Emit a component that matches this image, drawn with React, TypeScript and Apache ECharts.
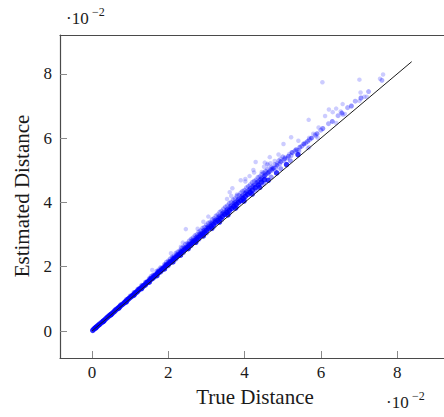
import React, { useEffect, useRef } from "react";
import * as echarts from "echarts";

// values in units of 10^-2
const tickValues = [0, 2, 4, 6, 8];
const xLabel = "True Distance";
const yLabel = "Estimated Distance";

const diagonal: number[][] = [[0, 0], [8.38, 8.38]];

const corePoints: number[][] = [
  [0.02,0.02],[0.05,0.06],[0.08,0.09],[0.11,0.12],[0.14,0.15],[0.17,0.18],[0.2,0.21],[0.24,0.25],[0.28,0.29],[0.32,0.33],
  [0.36,0.38],[0.4,0.42],[0.44,0.46],[0.48,0.5],[0.52,0.54],[0.56,0.58],[0.6,0.62],[0.64,0.67],[0.68,0.71],[0.72,0.75],
  [0.76,0.79],[0.8,0.83],[0.84,0.87],[0.88,0.91],[0.92,0.96],[0.96,1.0],[1.0,1.04],[1.04,1.08],[1.08,1.12],[1.12,1.16],
  [1.16,1.2],[1.2,1.25],[1.24,1.29],[1.28,1.33],[1.32,1.37],[1.36,1.41],[1.4,1.45],[1.44,1.5],[1.48,1.54],[1.52,1.58],
  [1.56,1.62],[1.6,1.66],[1.64,1.7],[1.68,1.75],[1.72,1.79],[1.76,1.83],[1.8,1.87],[1.84,1.91],[1.88,1.96],[1.92,2.0],
  [1.96,2.04],[2.0,2.08],[2.05,2.13],[2.1,2.18],[2.15,2.24],[2.2,2.29],[2.25,2.34],[2.3,2.39],[2.35,2.45],[2.4,2.5],
  [2.45,2.55],[2.5,2.6],[2.55,2.65],[2.6,2.71],[2.65,2.76],[2.7,2.81],[2.75,2.86],[2.8,2.92],[2.85,2.97],[2.9,3.02],
  [2.95,3.07],[3.0,3.12],[3.06,3.19],[3.12,3.25],[3.18,3.31],[3.24,3.38],[3.3,3.44],[3.36,3.5],[3.42,3.56],[3.48,3.63],
  [3.54,3.69],[3.6,3.75],[3.66,3.81],[3.72,3.88],[3.78,3.94],[3.84,4.0],[3.9,4.06],[3.96,4.13],[4.02,4.19],[4.08,4.25],
  [4.14,4.31],[4.2,4.38],[4.28,4.46],[4.36,4.54],[4.44,4.63],[4.52,4.71],
  [0.1,0.1],[0.3,0.3],[0.5,0.51],[0.7,0.71],[0.9,0.91],[1.1,1.12],[1.3,1.32],[1.5,1.52],[1.7,1.72],[1.9,1.93],
  [2.12,2.15],[2.32,2.36],[2.52,2.56],[2.72,2.76],[2.92,2.96],[3.14,3.19],[3.34,3.39],[3.56,3.61],[3.76,3.82],[3.98,4.04],
  [4.2,4.26],[4.4,4.47],[4.62,4.69],[4.84,4.92],[5.1,5.18],[5.4,5.49]
];

const midPoints: number[][] = [
  [0.3,0.32],[0.45,0.48],[0.6,0.64],[0.75,0.8],[0.85,0.9],[0.95,1.01],[1.05,1.11],[1.15,1.22],[1.25,1.33],[1.35,1.43],
  [1.45,1.54],[1.55,1.65],[1.65,1.75],[1.75,1.86],[1.85,1.96],[1.95,2.07],[2.05,2.17],[2.15,2.28],[2.25,2.38],[2.35,2.5],
  [2.45,2.6],[2.55,2.71],[2.65,2.82],[2.75,2.93],[2.85,3.03],[2.95,3.14],[3.05,3.25],[3.15,3.36],[3.25,3.46],[3.35,3.57],
  [3.45,3.68],[3.55,3.79],[3.65,3.9],[3.75,4.0],[3.85,4.11],[3.95,4.22],[4.05,4.33],[4.15,4.44],[4.25,4.54],[4.35,4.65],
  [4.45,4.76],[4.55,4.86],[4.65,4.96],[4.75,5.06],[4.85,5.16],[4.95,5.27],[5.05,5.36],[5.15,5.44],[5.25,5.55],[5.35,5.64],
  [5.45,5.72],[5.55,5.82],[5.65,5.9],[5.75,6.0],[5.9,6.14],[6.05,6.3],[6.3,6.52],[6.55,6.78],[6.8,7.0],[7.05,7.25],
  [1.02,1.08],[1.12,1.19],[1.22,1.3],[1.32,1.4],[1.42,1.51],[1.52,1.62],[1.62,1.72],[1.72,1.83],[1.82,1.94],[1.92,2.05],
  [2.02,2.15],[2.12,2.26],[2.22,2.37],[2.32,2.47],[2.42,2.58],[2.52,2.69],[2.62,2.8],[2.72,2.9],[2.82,3.01],[2.92,3.12],
  [3.02,3.23],[3.12,3.33],[3.22,3.44],[3.32,3.55],[3.42,3.66],[3.52,3.76],[3.62,3.87],[3.72,3.98],[3.82,4.08],[3.92,4.19],
  [4.02,4.3],[4.12,4.4],[4.22,4.51],[4.32,4.62],[4.42,4.72],[4.52,4.83],[4.62,4.93],[4.72,5.04],
  [1.2,1.22],[1.4,1.42],[1.6,1.63],[1.8,1.83],[2.0,2.03],[2.2,2.24],[2.4,2.44],[2.6,2.65],[2.8,2.85],[3.0,3.05],
  [3.2,3.26],[3.4,3.46],[3.6,3.67],[3.8,3.87],[4.0,4.08],[4.3,4.38],[4.5,4.59],[4.7,4.79],[4.95,5.05],[5.2,5.3]
];

const bandPoints: number[][] = [
  [0.6,0.66],[0.75,0.82],[0.9,0.98],[1.0,1.09],[1.1,1.2],[1.2,1.3],[1.3,1.42],[1.4,1.52],[1.5,1.63],[1.55,1.7],
  [1.6,1.74],[1.7,1.86],[1.75,1.9],[1.8,1.97],[1.9,2.07],[1.95,2.14],[2.0,2.18],[2.05,2.24],[2.1,2.3],[2.15,2.33],
  [2.2,2.42],[2.25,2.46],[2.3,2.5],[2.35,2.58],[2.4,2.62],[2.45,2.7],[2.5,2.73],[2.55,2.8],[2.6,2.86],[2.65,2.9],
  [2.7,2.97],[2.75,3.0],[2.8,3.08],[2.85,3.12],[2.9,3.2],[2.95,3.23],[3.0,3.3],[3.05,3.36],[3.1,3.38],[3.15,3.47],
  [3.2,3.5],[3.25,3.58],[3.3,3.62],[3.35,3.7],[3.4,3.73],[3.45,3.8],[3.5,3.86],[3.55,3.9],[3.6,3.98],[3.65,4.0],
  [3.7,4.08],[3.75,4.12],[3.8,4.2],[3.85,4.22],[3.9,4.3],[3.95,4.35],[4.0,4.38],[4.05,4.46],[4.1,4.5],[4.15,4.55],
  [4.2,4.62],[4.25,4.66],[4.3,4.7],[4.35,4.78],[4.4,4.8],[4.45,4.88],[4.5,4.92],[4.55,4.97],[4.6,5.03],[4.7,5.1],
  [4.8,5.18],[4.9,5.3],[5.0,5.42],
  [3.02,3.18],[3.12,3.28],[3.22,3.4],[3.32,3.5],[3.42,3.62],[3.52,3.72],[3.62,3.82],[3.72,3.95],[3.82,4.05],[3.92,4.15],
  [4.02,4.28],[4.12,4.36],[4.22,4.48],[4.32,4.58],[4.42,4.7],[4.52,4.8],[4.62,4.9],[4.72,5.0],[4.82,5.08],[4.92,5.2],
  [5.02,5.3],[5.12,5.38],[5.22,5.46],[5.32,5.6],[5.5,5.75],[5.6,5.85],[5.7,5.95],[5.85,6.1],[6.0,6.25],[6.2,6.45],
  [6.45,6.7],[6.7,6.95],[6.9,7.15],[7.25,7.45],[7.6,7.8]
];

const outlierPoints: number[][] = [
  [6.04,7.74],[7.01,7.82],[7.63,7.98],[7.55,7.85],[7.04,7.42],[7.14,7.29],[7.2,7.29],[7.01,7.16],[6.57,7.06],[6.4,6.92],
  [6.21,6.89],[6.31,6.81],[6.52,6.83],[6.58,6.73],[6.63,6.75],[6.11,6.69],[6.4,6.47],[5.68,6.57],[5.94,6.33],[5.8,6.14],
  [5.69,6.01],[5.76,6.01],[5.87,6.06],[5.92,6.01],[5.56,5.81],[5.41,5.92],[5.66,5.69],[5.69,5.72],[5.43,5.63],
  [5.22,6.03],[5.02,5.82],[5.38,5.63],[5.43,5.58],[5.23,5.56],[5.17,5.51],[4.89,5.49],[4.94,5.36],[5.06,5.41],[4.66,5.41],
  [4.29,5.26],[4.53,5.24],[4.6,5.2],[4.68,5.22],[4.79,5.29],[4.86,5.22],[4.23,5.01],[4.25,4.93],[4.45,4.95],[4.54,4.91],
  [4.68,5.03],[4.77,5.06],[3.9,4.69],[4.02,4.73],[3.68,4.44],[3.61,4.32],[4.02,4.65],[4.13,4.82],[3.05,3.56],[2.92,3.4],
  [4.51,5.11],[4.6,5.17],[3.54,4.11],[3.65,4.2],[3.8,4.25],[2.46,3.17],[2.77,3.18],[2.07,2.42],[2.38,2.75],[2.33,2.62],
  [1.58,1.9]
];

export default function App() {
  const ref = useRef<HTMLDivElement>(null);
  useEffect(() => {
    if (!ref.current) return;
    const chart = echarts.init(ref.current, null, { renderer: "svg" });
    const font = "'Liberation Serif', 'DejaVu Serif', serif";
    const dotColor = "rgb(0,0,255)";
    const axisColor = "#4a4a4a";
    chart.setOption({
      animation: false,
      backgroundColor: "#ffffff",
      grid: { left: 60, top: 35, right: -5, bottom: 59, show: false },
      xAxis: [
        {
          type: "value",
          min: -0.838,
          max: 9.227,
          splitLine: { show: false },
          axisLine: { show: true, onZero: false, lineStyle: { color: axisColor, width: 1.2 } },
          axisTick: { show: true, inside: true, length: 7, lineStyle: { color: "#8a8a8a" }, customValues: tickValues },
          axisLabel: { fontFamily: font, fontSize: 17, color: "#1a1a1a", margin: 6, customValues: tickValues },
        },
        {
          type: "value",
          position: "top",
          min: -0.838,
          max: 9.227,
          splitLine: { show: false },
          axisLine: { show: true, onZero: false, lineStyle: { color: axisColor, width: 1.2 } },
          axisTick: { show: false },
          axisLabel: { show: false },
        },
      ],
      yAxis: {
        type: "value",
        min: -0.84,
        max: 9.21,
        splitLine: { show: false },
        axisLine: { show: true, onZero: false, lineStyle: { color: axisColor, width: 1.2 } },
        axisTick: { show: true, inside: true, length: 7, lineStyle: { color: "#8a8a8a" }, customValues: tickValues },
        axisLabel: { fontFamily: font, fontSize: 17, color: "#1a1a1a", margin: 8, customValues: tickValues },
      },
      graphic: [
        { type: "text", left: 66, top: 10, style: { text: "·10", fontFamily: font, fontSize: 17, fill: "#1a1a1a" } },
        { type: "text", left: 92, top: 6, style: { text: "−2", fontFamily: font, fontSize: 12, fill: "#1a1a1a" } },
        { type: "text", left: 386, top: 394, style: { text: "·10", fontFamily: font, fontSize: 17, fill: "#1a1a1a" } },
        { type: "text", left: 412, top: 390, style: { text: "−2", fontFamily: font, fontSize: 12, fill: "#1a1a1a" } },
        {
          type: "text", x: 255, y: 397,
          style: { text: xLabel, fontFamily: font, fontSize: 21, fill: "#1a1a1a", align: "center", verticalAlign: "middle" },
        },
        {
          type: "text", x: 22, y: 196, rotation: Math.PI / 2,
          style: { text: yLabel, fontFamily: font, fontSize: 21, fill: "#1a1a1a", align: "center", verticalAlign: "middle" },
        },
      ],
      series: [
        {
          type: "scatter", data: outlierPoints, symbolSize: 4.5,
          itemStyle: { color: dotColor, opacity: 0.2 }, z: 2,
        },
        {
          type: "scatter", data: bandPoints, symbolSize: 5,
          itemStyle: { color: dotColor, opacity: 0.3 }, z: 2,
        },
        {
          type: "scatter", data: midPoints, symbolSize: 5,
          itemStyle: { color: dotColor, opacity: 0.42 }, z: 2,
        },
        {
          type: "scatter", data: corePoints, symbolSize: 5.5,
          itemStyle: { color: dotColor, opacity: 0.8 }, z: 3,
        },
        {
          type: "line", data: diagonal, symbol: "none",
          lineStyle: { color: "#1a1a1a", width: 1 }, z: 5,
        },
      ],
    });
    return () => chart.dispose();
  }, []);
  return (
    <div
      ref={ref}
      style={{ position: "absolute", left: 0, top: 0, width: 444, height: 417 }}
    />
  );
}
